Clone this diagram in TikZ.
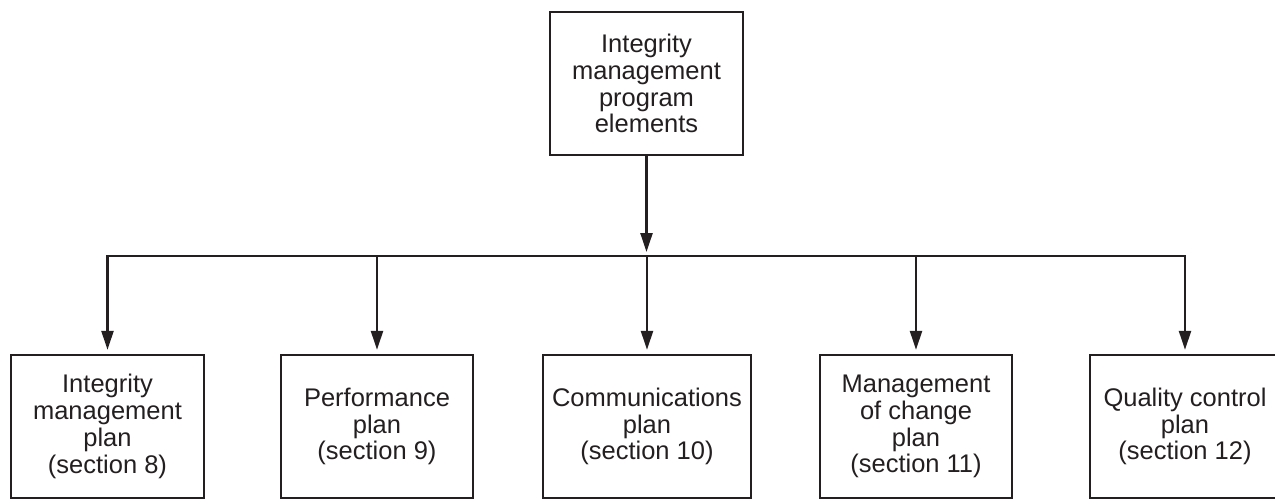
\documentclass[tikz,border=0pt]{standalone}
\usepackage{fontspec}
\setmainfont{Liberation Sans}
\usepackage{xcolor}
\usetikzlibrary{positioning, arrows.meta}

\definecolor{ink}{HTML}{231F20}

\begin{document}
\begin{tikzpicture}[
        x=1pt, y=-1pt,
        block/.style={rectangle, draw=ink, line width=2.4pt, align=center, text=ink, minimum width=193pt, minimum height=143pt, inner sep=2pt, font=\fontsize{25.5}{26.8}\selectfont},
        link/.style={draw=ink, line width=2.4pt, -{Triangle[length=19pt, width=12pt]}, shorten >=4pt},
        busline/.style={draw=ink, line width=2.4pt, line cap=rect}
        ]
        \useasboundingbox (0,0) rectangle (1275,500);

        % Top
        \node[block] (program) at (646.5,83.5) {Integrity\\management\\program\\elements};

        % Plans
        \node[block] (imp) at (107.5,426.5) {Integrity\\management\\plan\\(section 8)};
        \node[block, minimum width=192pt] (perf) at (377,426.5) {Performance\\plan\\(section 9)};
        \node[block, minimum width=208pt] (comm) at (647,426.5) {Communications\\plan\\(section 10)};
        \node[block, minimum width=192pt] (moc) at (916,426.5) {Management\\of change\\plan\\(section 11)};
        \node[block, minimum width=190pt] (qcp) at (1185,426.5) {Quality control\\plan\\(section 12)};

        \coordinate (bus) at (646.5,256);

        % Links
        \draw[link] (program.south) -- (bus);
        \draw[busline] (imp.north |- bus) -- (qcp.north |- bus);
        \foreach \n in {imp, perf, comm, moc, qcp}
            \draw[link] (\n.north |- bus) -- (\n.north);

    \end{tikzpicture}
\end{document}
